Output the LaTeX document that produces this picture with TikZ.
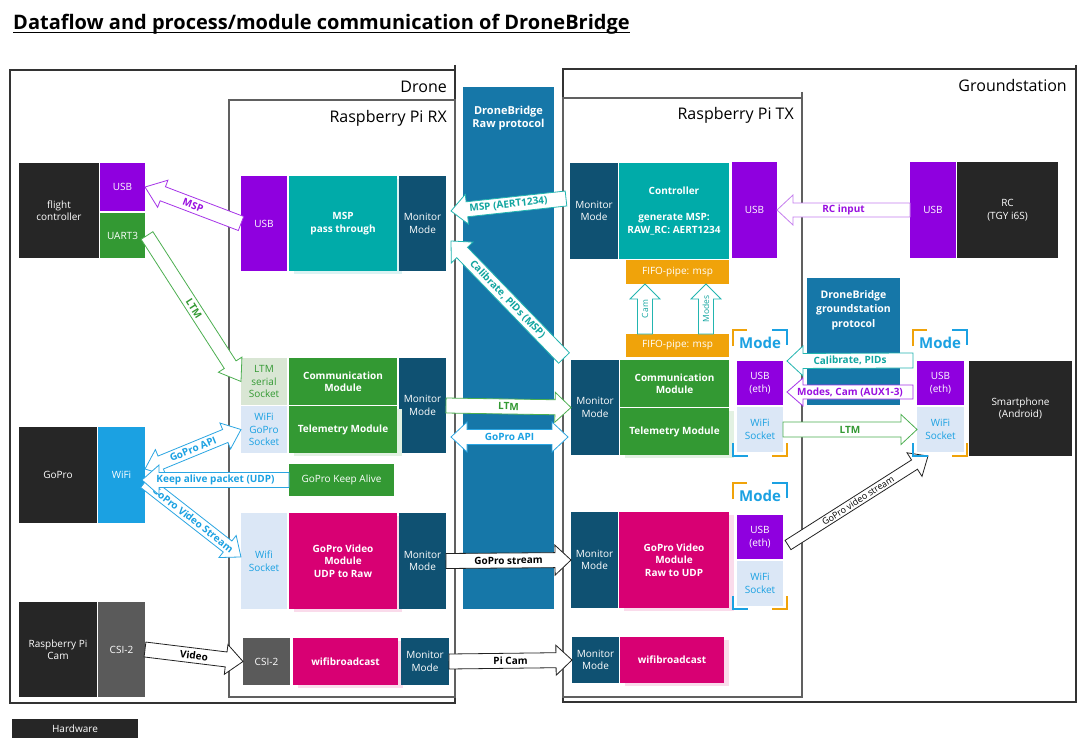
\documentclass[tikz,border=0pt]{standalone}
\usepackage{fontspec}
\setmainfont{Open Sans}
\usetikzlibrary{calc}
\pgfdeclarelayer{bg}
\pgfdeclarelayer{mid}
\pgfsetlayers{bg,mid,main}

\definecolor{chw}{HTML}{262626}
\definecolor{cusb}{HTML}{8F00DF}
\definecolor{cgrn}{HTML}{339933}
\definecolor{clgrn}{HTML}{D9E6D4}
\definecolor{cteal}{HTML}{00ABA9}
\definecolor{cmon}{HTML}{0F5172}
\definecolor{cwifi}{HTML}{1BA1E2}
\definecolor{clblue}{HTML}{DBE7F6}
\definecolor{cmag}{HTML}{D80073}
\definecolor{ccsi}{HTML}{5A5A5A}
\definecolor{ccol}{HTML}{1677A8}
\definecolor{corange}{HTML}{F0A30A}
\definecolor{cframe}{HTML}{333333}
\definecolor{cframeb}{HTML}{606060}
\definecolor{cpurA}{HTML}{A633E8}
\definecolor{cpurL}{HTML}{C57EEE}
\definecolor{cpurT}{HTML}{9A10E0}
\definecolor{ctealA}{HTML}{22B5B0}
\definecolor{ctealT}{HTML}{11A5A0}
\definecolor{cgrnA}{HTML}{4CAF50}
\definecolor{cblueA}{HTML}{2AA5E2}
\definecolor{cblkA}{HTML}{222222}

% box by pixel corners: name, x1, y1, x2, y2, style, text
\newcommand{\bx}[7]{\node[#6, minimum width={(#4)-(#2)}, minimum height={(#5)-(#3)}] (#1) at ({((#2)+(#4))/2},{((#3)+(#5))/2}) {#7};}

% hollow single arrow: [style]{from}{to}{shaft half}{head half}{head length}{label style}{label}
\newcommand{\harrow}[8][]{%
  \path #2 coordinate (hA) #3 coordinate (hB);
  \pgfpointdiff{\pgfpointanchor{hA}{center}}{\pgfpointanchor{hB}{center}}%
  \pgfgetlastxy{\hArdx}{\hArdy}%
  \pgfmathsetmacro{\hArAng}{atan2(\hArdy,\hArdx)}%
  \pgfmathsetmacro{\hArLen}{veclen(\hArdx,\hArdy)}%
  \pgfmathsetmacro{\hArBase}{\hArLen-#6}%
  \begin{scope}[shift={(hA)}, rotate=\hArAng]
    \filldraw[harr, #1] (0pt,-#4pt) -- (\hArBase pt,-#4pt) -- (\hArBase pt,-#5pt) -- (\hArLen pt,0pt)
      -- (\hArBase pt,#5pt) -- (\hArBase pt,#4pt) -- (0pt,#4pt) -- cycle;
  \end{scope}
  \path (hA) -- (hB) node[pos=0.5, sloped, alab, #7] {#8};
}
% hollow double arrow
\newcommand{\hdarrow}[8][]{%
  \path #2 coordinate (hA) #3 coordinate (hB);
  \pgfpointdiff{\pgfpointanchor{hA}{center}}{\pgfpointanchor{hB}{center}}%
  \pgfgetlastxy{\hArdx}{\hArdy}%
  \pgfmathsetmacro{\hArAng}{atan2(\hArdy,\hArdx)}%
  \pgfmathsetmacro{\hArLen}{veclen(\hArdx,\hArdy)}%
  \pgfmathsetmacro{\hArBase}{\hArLen-#6}%
  \begin{scope}[shift={(hA)}, rotate=\hArAng]
    \filldraw[harr, #1] (0pt,0pt) -- (#6pt,#5pt) -- (#6pt,#4pt) -- (\hArBase pt,#4pt) -- (\hArBase pt,#5pt)
      -- (\hArLen pt,0pt) -- (\hArBase pt,-#5pt) -- (\hArBase pt,-#4pt) -- (#6pt,-#4pt) -- (#6pt,-#5pt) -- cycle;
  \end{scope}
  \path (hA) -- (hB) node[pos=0.5, sloped, alab, #7] {#8};
}
% Mode bracket: name, x1, y1, x2, y2
\newcommand{\modebr}[5]{%
  \draw[brk, corange] (#2,#3+16) -- (#2,#3) -- (#2+14,#3);
  \draw[brk, cwifi] (#4-15,#3) -- (#4,#3) -- (#4,#3+15);
  \draw[brk, cwifi] (#2,#5-13) -- (#2,#5) -- (#2+15,#5);
  \draw[brk, corange] (#4,#5-13) -- (#4,#5) -- (#4-15,#5);
  \node[modetxt] (#1) at ({((#2)+(#4))/2},#3+13) {Mode};
}

\begin{document}
\begin{tikzpicture}[x=1pt,y=-1pt,
  box/.style={inner sep=0pt, outer sep=0pt, align=center, text=white, font=\fontsize{10}{12.5}\selectfont},
  bbox/.style={box, font=\bfseries\fontsize{10}{12.5}\selectfont},
  sh/.style={preaction={fill=#1!14, transform canvas={xshift=5pt,yshift=-3pt}}},
  harr/.style={fill=white, line width=0.8pt, line join=miter},
  alab/.style={font=\bfseries\fontsize{10}{11.5}\selectfont, inner sep=1pt},
  alabn/.style={font=\fontsize{8.5}{10}\selectfont},
  frame/.style={line width=1.1pt, draw=cframe},
  frameb/.style={line width=1.2pt, draw=cframeb},
  flbl/.style={anchor=base east, font=\fontsize{16}{18}\selectfont, inner sep=0pt},
  coltxt/.style={align=center, text=white, font=\bfseries\fontsize{11}{13}\selectfont, inner sep=0pt},
  gstxt/.style={align=center, text=white, font=\bfseries\fontsize{10.5}{14.5}\selectfont, inner sep=0pt},
  brk/.style={line width=1.6pt},
  modetxt/.style={text=cwifi, font=\bfseries\fontsize{15}{17}\selectfont, inner sep=0pt}
]
\begin{pgfonlayer}{bg}
\fill[white] (0,0) rectangle (1091,741);
\end{pgfonlayer}
\useasboundingbox (0,0) rectangle (1091,741);

% title
\node[anchor=base west, inner sep=0pt, font=\bfseries\fontsize{20}{24}\selectfont] (title) at (13,30) {Dataflow and process/module communication of DroneBridge};
\draw[line width=1.3pt] ([yshift=-2.5pt]title.base west) -- ([yshift=-2.5pt]title.base east);

% frames
\begin{pgfonlayer}{bg}
\draw[frame] (10,70) rectangle (455,703);
\draw[frame] (455,65) -- (455,70);
\draw[frameb] (229,100) rectangle (455,697);
\draw[frame] (563,69) rectangle (1076,702);
\draw[frame] (1076,65) -- (1076,69);
\draw[frameb] (563,98) rectangle (802,697);
\draw[frameb] (802,92) -- (802,98);
\end{pgfonlayer}
\node[flbl] (ldrone) at (447,93) {Drone};
\node[flbl] (lrx) at (447,122) {Raspberry Pi RX};
\node[flbl] (lgs) at (1067,92) {Groundstation};
\node[flbl] (ltx) at (794,120) {Raspberry Pi TX};

% hardware
\bx{fc}{19}{163}{99}{258}{box,fill=chw}{flight\\controller}
\bx{fcusb}{100}{163}{145}{211}{box,fill=cusb}{USB}
\bx{fcuart}{100}{213}{145}{258}{box,fill=cgrn}{UART3}
\bx{gopro}{19}{427}{97}{523}{box,fill=chw}{GoPro}
\bx{gpwifi}{98}{427}{145}{523}{box,fill=cwifi}{WiFi}
\bx{picam}{19}{602}{97}{697}{box,fill=chw}{Raspberry Pi\\Cam}
\bx{camcsi}{98}{602}{145}{697}{box,fill=ccsi}{CSI-2}
\bx{legend}{12}{719}{138}{738}{box,fill=chw}{Hardware}

% Raspberry Pi RX
\bx{rxusb}{241}{176}{287}{271}{box,fill=cusb}{USB}
\bx{rxmsp}{289}{176}{397}{271}{bbox,sh=cteal,fill=cteal}{MSP\\pass through}
\bx{rxmonA}{399}{176}{446}{271}{box,fill=cmon}{Monitor\\Mode}
\bx{rxltm}{241}{358}{287}{405}{box,fill=clgrn,text=cgrn}{LTM\\serial\\Socket}
\bx{rxcomm}{289}{358}{397}{405}{bbox,fill=cgrn}{Communication\\Module}
\bx{rxmonB}{399}{358}{446}{453}{box,fill=cmon}{Monitor\\Mode}
\bx{rxgps}{241}{406}{287}{453}{box,fill=clblue,text=cwifi}{WiFi\\GoPro\\Socket}
\bx{rxtel}{289}{406}{397}{453}{bbox,sh=cgrn,fill=cgrn}{Telemetry Module}
\bx{rxka}{289}{464}{394}{496}{box,fill=cgrn}{GoPro Keep Alive}
\bx{rxws}{241}{513}{287}{609}{box,fill=clblue,text=cwifi}{Wifi\\Socket}
\bx{rxgv}{289}{513}{397}{609}{bbox,sh=cmag,fill=cmag}{GoPro Video\\Module\\UDP to Raw}
\bx{rxmonC}{399}{513}{446}{609}{box,fill=cmon}{Monitor\\Mode}
\bx{rxcsi}{243}{638}{290}{685}{box,fill=ccsi}{CSI-2}
\bx{rxwfb}{293}{638}{398}{685}{bbox,sh=cmag,fill=cmag}{wifibroadcast}
\bx{rxmonD}{401}{638}{449}{685}{box,fill=cmon}{Monitor\\Mode}

% raw protocol column
\bx{col}{463}{87}{554}{609}{box,fill=ccol}{}
\node[coltxt] (colt) at (508.5,118) {DroneBridge\\Raw protocol};

% Raspberry Pi TX
\bx{txmonA}{570}{163}{618}{259}{box,fill=cmon}{Monitor\\Mode}
\bx{txctrl}{619}{163}{729}{259}{bbox,fill=cteal}{Controller\\[13.5pt]generate MSP:\\RAW\_RC: AERT1234}
\bx{txusb}{732}{162}{777}{258}{box,fill=cusb}{USB}
\bx{fifoA}{626}{260}{729}{284}{box,fill=corange}{FIFO-pipe: msp}
\bx{fifoB}{626}{334}{729}{357}{box,fill=corange}{FIFO-pipe: msp}
\bx{txmonB}{571}{360}{619}{455}{box,fill=cmon}{Monitor\\Mode}
\bx{txcomm}{620}{360}{729}{407}{bbox,fill=cgrn}{Communication\\Module}
\bx{txtel}{620}{408}{729}{455}{bbox,sh=cgrn,fill=cgrn}{Telemetry Module}
\bx{txusbB}{737}{361}{783}{405}{box,fill=cusb}{USB\\(eth)}
\bx{txwsB}{737}{407}{783}{452}{box,fill=clblue,text=cwifi}{WiFi\\Socket}
\bx{txmonC}{571}{512}{618}{608}{box,fill=cmon}{Monitor\\Mode}
\bx{txgv}{619}{512}{729}{608}{bbox,sh=cmag,fill=cmag}{GoPro Video\\Module\\Raw to UDP}
\bx{txusbC}{737}{515}{783}{559}{box,fill=cusb}{USB\\(eth)}
\bx{txwsC}{737}{561}{783}{606}{box,fill=clblue,text=cwifi}{WiFi\\Socket}
\bx{txmonD}{572}{637}{619}{683}{box,fill=cmon}{Monitor\\Mode}
\bx{txwfb}{620}{637}{724}{683}{bbox,sh=cmag,fill=cmag}{wifibroadcast}

% Groundstation
\bx{gsusb}{910}{162}{956}{258}{box,fill=cusb}{USB}
\bx{rc}{957}{162}{1058}{258}{box,fill=chw}{RC\\(TGY i6S)}
\bx{gsproto}{807}{278}{900}{405}{box,fill=ccol}{}
\node[gstxt] (gst) at (853.5,310) {DroneBridge\\groundstation\\protocol};
\bx{gsusbB}{917}{361}{964}{405}{box,fill=cusb}{USB\\(eth)}
\bx{gsws}{917}{407}{964}{452}{box,fill=clblue,text=cwifi}{WiFi\\Socket}
\bx{phone}{969}{361}{1072}{456}{box,fill=chw}{Smartphone\\(Android)}

% Mode brackets
\modebr{modeA}{733}{330}{787}{456}
\modebr{modeB}{913}{330}{967}{456}
\modebr{modeC}{733}{483}{787}{609}

% arrows: drone side
\harrow[draw=cpurA]{(rxusb.west)}{(fcusb.east)}{7.5}{14.5}{19}{text=cpurT}{MSP}
\harrow[draw=cgrnA]{([xshift=2pt]fcuart.east)}{(rxltm.west)}{7}{14}{20}{text=cgrn}{LTM}
\hdarrow[draw=cblueA]{([yshift=6pt]gpwifi.east)}{(rxgps.west)}{7}{14}{17}{text=cwifi}{GoPro API}
\harrow[draw=cblueA]{([yshift=-7pt]gpwifi.east)}{([yshift=4pt]rxws.west)}{7}{14}{17}{text=cwifi}{GoPro Video Stream}
\harrow[draw=cblueA]{(rxka.west)}{([xshift=-3pt,yshift=-5pt]gpwifi.east)}{7.5}{15}{17}{text=cwifi}{Keep alive packet (UDP)}
\harrow[draw=cblkA]{(camcsi.east)}{(rxcsi.west)}{7.5}{15}{17}{text=black}{Video}

% arrows: air link
\harrow[draw=ctealA]{([xshift=-4pt,yshift=12.5pt]txmonA.west)}{([xshift=5pt,yshift=12.5pt]rxmonA.east)}{7.5}{15}{16}{text=ctealT}{MSP (AERT1234)}
\harrow[draw=ctealA]{([xshift=-7pt,yshift=2pt]txmonB.north west)}{([xshift=5pt,yshift=30pt]rxmonA.south east)}{7.5}{15}{16}{text=ctealT}{Calibrate, PIDs (MSP)}
\harrow[draw=cgrnA]{(rxmonB.east)}{(txmonB.west)}{7.5}{15}{16}{text=cgrn}{LTM}
\hdarrow[draw=cblueA]{([xshift=5pt,yshift=-31.5pt]rxmonB.east)}{([xshift=-3pt,yshift=-29.5pt]txmonB.west)}{7.5}{15}{16}{text=cwifi}{GoPro API}
\harrow[draw=cblkA]{(rxmonC.east)}{(txmonC.west)}{7.5}{15}{16}{text=black}{GoPro stream}
\harrow[draw=cblkA]{(rxmonD.east)}{(txmonD.west)}{7.5}{15}{16}{text=black}{Pi Cam}

% arrows: ground side
\harrow[draw=cpurL]{(gsusb.west)}{(txusb.east)}{7}{15}{16}{text=cpurT}{RC input}
\harrow[draw=ctealA]{([xshift=-32.5pt]fifoB.north)}{([xshift=-32.5pt]fifoA.south)}{7.5}{15}{15}{alabn,text=ctealT}{Cam}
\harrow[draw=ctealA]{([xshift=28.5pt]fifoB.north)}{([xshift=28.5pt]fifoA.south)}{7.5}{15}{15}{alabn,text=ctealT}{Modes}
\harrow[draw=ctealA]{([xshift=-4pt,yshift=22.5pt]gsusbB.west)}{([xshift=4pt,yshift=22pt]txusbB.east)}{7.5}{15}{16}{text=ctealT}{Calibrate, PIDs}
\harrow[draw=cpurA]{([xshift=-4pt,yshift=-9pt]gsusbB.west)}{([xshift=4pt,yshift=-9pt]txusbB.east)}{7}{14}{16}{text=cpurT}{Modes, Cam (AUX1-3)}
\harrow[draw=cgrnA]{(txwsB.east)}{(gsws.west)}{7.5}{15}{16}{text=cgrn}{LTM}
\begin{pgfonlayer}{mid}
\harrow[draw=cblkA]{([xshift=5pt,yshift=-8pt]txusbC.east)}{([xshift=11pt,yshift=-4pt]gsws.south west)}{5.5}{14}{16}{alabn,font=\fontsize{9}{10}\selectfont,text=black}{GoPro video stream}
\end{pgfonlayer}
\end{tikzpicture}
\end{document}
